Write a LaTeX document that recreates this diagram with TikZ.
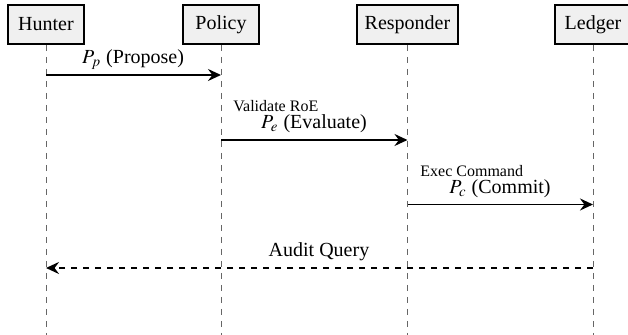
\documentclass[tikz,border=0pt]{standalone}
\usepackage{mathptmx}
\usepackage{fontspec}
\setmainfont{Liberation Serif}
\usetikzlibrary{arrows.meta}
\tikzset{
  actor/.style={draw=black, line width=0.9pt, fill=black!6, minimum width=38pt, minimum height=19.5pt, inner xsep=4pt, font=\normalsize},
  lifeline/.style={draw=black!60, line width=0.4pt, dashed},
  msg/.style={draw=black, line width=0.9pt, -{Stealth[length=6.5pt,width=6pt,inset=2.2pt]}},
  reply/.style={msg, dashed},
  lbl/.style={inner sep=0pt, font=\normalsize},
  small/.style={inner sep=0pt, font=\footnotesize, anchor=west}
}
\begin{document}
\begin{tikzpicture}[x=0.5pt, y=-0.5pt]
\useasboundingbox (0,0) rectangle (628,335);
% actors
\node[actor] (hunter) at (46,24.5) {Hunter};
\node[actor] (policy) at (221,24.5) {Policy};
\node[actor] (responder) at (407.5,24.5) {Responder};
\node[actor] (ledger) at (593,24.5) {Ledger};
% lifeline ends
\coordinate (hEnd) at (46,340);
\coordinate (pEnd) at (221,340);
\coordinate (rEnd) at (407.5,340);
\coordinate (lEnd) at (593,340);
\draw[lifeline] (hunter.south) -- (hEnd);
\draw[lifeline] (policy.south) -- (pEnd);
\draw[lifeline] (responder.south) -- (rEnd);
\draw[lifeline] (ledger.south) -- (lEnd);
% message points
\coordinate (h1) at (46,75);   \coordinate (p1) at (221,75);
\coordinate (p2) at (221,140); \coordinate (r2) at (407.5,140);
\coordinate (r3) at (407.5,204.5); \coordinate (l3) at (593,204.5);
\coordinate (l4) at (593,268); \coordinate (h4) at (46,268);
% messages
\draw[msg] (h1) -- (p1);
\draw[msg] (p2) -- (r2);
\draw[msg] (r3) -- (l3);
\draw[reply] (l4) -- (h4);
% labels
\node[lbl] (lab1) at (133,60) {$P_p$ (Propose)};
\node[small] (sm2) at (233,106.5) {Validate RoE};
\node[lbl] (lab2) at (314,124) {$P_e$ (Evaluate)};
\node[small] (sm3) at (420,171.5) {Exec Command};
\node[lbl] (lab3) at (500,189) {$P_c$ (Commit)};
\node[lbl] (lab4) at (319,252) {Audit Query};
\end{tikzpicture}
\end{document}
